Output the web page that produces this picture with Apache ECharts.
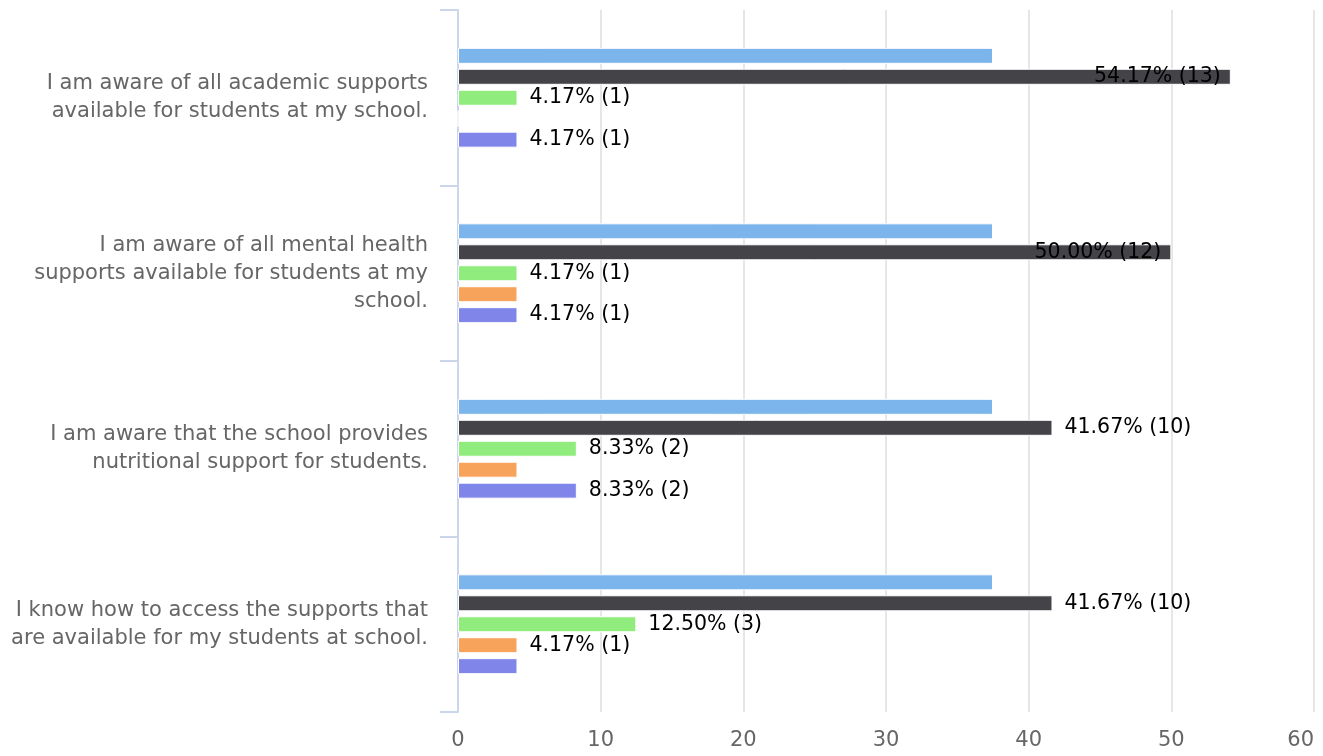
<!DOCTYPE html>
<html>
<head>
<meta charset="utf-8">
<script src="https://cdn.jsdelivr.net/npm/echarts@6/dist/echarts.min.js"></script>
<style>
html,body{margin:0;padding:0;background:#fff;}
#chart{width:1323px;height:756px;}
</style>
</head>
<body>
<div id="chart"></div>
<script>
const categories = [
  "I am aware of all academic supports\navailable for students at my school.",
  "I am aware of all mental health\nsupports available for students at my\nschool.",
  "I am aware that the school provides\nnutritional support for students.",
  "I know how to access the supports that\nare available for my students at school."
];
const seriesNames = ["Series 1", "Series 2", "Series 3", "Series 4", "Series 5"];
const pct1 = [37.5, 37.5, 37.5, 37.5];
const pct2 = [54.17, 50.00, 41.67, 41.67];
const pct3 = [4.17, 4.17, 8.33, 12.50];
const pct4 = [0, 4.17, 4.17, 4.17];
const pct5 = [4.17, 4.17, 8.33, 4.17];
const cnt1 = [9, 9, 9, 9];
const cnt2 = [13, 12, 10, 10];
const cnt3 = [1, 1, 2, 3];
const cnt4 = [0, 1, 1, 1];
const cnt5 = [1, 1, 2, 1];
const xTicks = [0, 10, 20, 30, 40, 50, 60];
// labels that are not shown in the reference: [seriesIndex, categoryIndex]
const hiddenLabels = [[0,0],[0,1],[0,2],[0,3],[3,0],[3,1],[3,2],[4,3]];
// labels drawn inside the bar end
const insideLabels = [[1,0],[1,1]];

const colors = ['#7cb5ec', '#434348', '#90ed7d', '#f7a35c', '#8085e9'];
const pcts = [pct1, pct2, pct3, pct4, pct5];
const cnts = [cnt1, cnt2, cnt3, cnt4, cnt5];
const FONT = 'DejaVu Sans';

function has(list, s, c) { return list.some(p => p[0] === s && p[1] === c); }

const series = pcts.map((arr, s) => ({
  name: seriesNames[s],
  type: 'bar',
  barWidth: 16,
  barGap: '31%',
  itemStyle: { color: colors[s], borderColor: '#ffffff', borderWidth: 1 },
  label: {
    show: true,
    position: 'right',
    distance: 12,
    color: '#000000',
    fontFamily: FONT,
    fontSize: 20.5,
    formatter: p => pcts[s][p.dataIndex].toFixed(2) + '% (' + cnts[s][p.dataIndex] + ')'
  },
  data: arr.map((v, c) => {
    const item = { value: v };
    if (has(hiddenLabels, s, c) || v === 0) item.label = { show: false };
    else if (has(insideLabels, s, c)) item.label = { position: 'insideRight', distance: 10 };
    return item;
  })
}));

const chart = echarts.init(document.getElementById('chart'), null, { renderer: 'canvas' });
chart.setOption({
  animation: false,
  backgroundColor: '#ffffff',
  grid: { left: 458, right: 9, top: 10, bottom: 44, containLabel: false },
  xAxis: {
    type: 'value',
    min: xTicks[0],
    max: xTicks[xTicks.length - 1],
    interval: 10,
    axisLine: { show: false },
    axisTick: { show: false },
    axisLabel: { color: '#666666', fontFamily: FONT, fontSize: 21, margin: 18, alignMaxLabel: 'right' },
    splitLine: { show: true, lineStyle: { color: '#e6e6e6', width: 2 } }
  },
  yAxis: {
    type: 'category',
    inverse: true,
    data: categories,
    axisLine: { show: true, lineStyle: { color: '#ccd6eb', width: 2 } },
    axisTick: { show: true, length: 18, lineStyle: { color: '#ccd6eb', width: 2 } },
    axisLabel: {
      color: '#666666', fontFamily: FONT, fontSize: 21, lineHeight: 28,
      margin: 30, align: 'right', verticalAlign: 'middle', padding: [0, 0, 6, 0]
    },
    splitLine: { show: false }
  },
  series: series
});
</script>
</body>
</html>
